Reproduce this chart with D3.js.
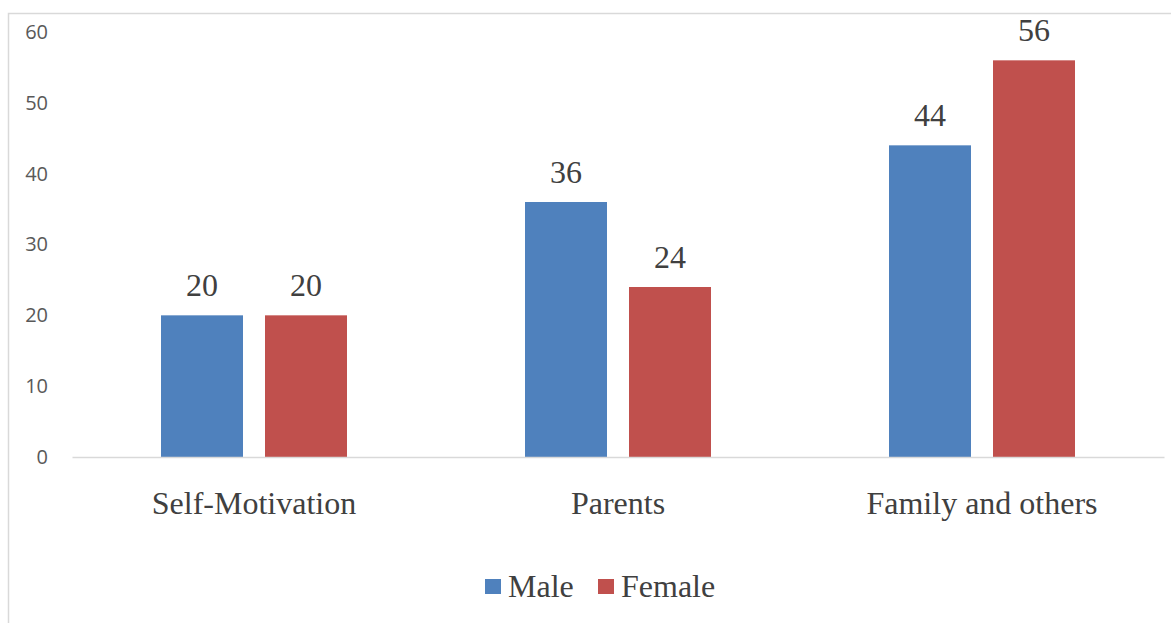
<!DOCTYPE html>
<html><head><meta charset="utf-8">
<script src="https://cdn.jsdelivr.net/npm/d3@7"></script>
<style>body{margin:0;background:#fff}svg{display:block}</style>
</head><body><svg id="c" width="1171" height="623"></svg>
<script>
const categories = ["Self-Motivation", "Parents", "Family and others"];
const seriesNames = ["Male", "Female"];
const maleValues = [20, 36, 44];
const femaleValues = [20, 24, 56];
const yTicks = [0, 10, 20, 30, 40, 50, 60];
const colors = ["#4F81BD", "#C0504D"];

const svg = d3.select("#c");
// outer chart border
svg.append("rect").attr("x", 8.5).attr("y", 13.5).attr("width", 1200).attr("height", 700)
  .attr("fill", "none").attr("stroke", "#d9d9d9").attr("stroke-width", 1.5);

const plotLeft = 72, plotRight = 1164, plotTop = 32, plotBottom = 457;
const serif = "'Liberation Serif', 'Times New Roman', serif";
const y = d3.scaleLinear().domain([0, 60]).range([plotBottom, plotTop]);
const x0 = d3.scaleBand().domain(categories).range([plotLeft, plotRight]).padding(0);
const x1 = d3.scaleBand().domain(seriesNames).range([0, x0.bandwidth()])
  .paddingInner(22 / 104).paddingOuter(0.8558);

const data = categories.map((c, i) => ({cat: c, vals: [maleValues[i], femaleValues[i]]}));

// y axis labels
const yAxis = d3.axisLeft(y).tickValues(yTicks).tickSize(0).tickPadding(0);
const yg = svg.append("g").attr("transform", `translate(48,0)`).call(yAxis);
yg.select(".domain").remove();
yg.selectAll("text").attr("font-family", "'Open Sans', 'Noto Sans', sans-serif")
  .attr("font-size", 20).attr("fill", "#595959");

// bars
const g = svg.append("g");
data.forEach(d => {
  seriesNames.forEach((s, j) => {
    const bx = x0(d.cat) + x1(s);
    g.append("rect").attr("x", bx).attr("y", y(d.vals[j]))
      .attr("width", x1.bandwidth()).attr("height", y(0) - y(d.vals[j]))
      .attr("fill", colors[j]);
    g.append("text").attr("x", bx + x1.bandwidth() / 2).attr("y", y(d.vals[j]) - 19)
      .attr("text-anchor", "middle").attr("font-family", serif)
      .attr("font-size", 32).attr("fill", "#404040").text(d.vals[j]);
  });
});

// x axis
const xAxis = d3.axisBottom(x0).tickSize(0).tickPadding(0);
const xg = svg.append("g").attr("transform", `translate(0,${plotBottom})`).call(xAxis);
xg.select(".domain").attr("stroke", "#d9d9d9").attr("stroke-width", 1.5);
xg.selectAll("text").attr("dy", null).attr("y", 57)
  .attr("font-family", serif)
  .attr("font-size", 32).attr("fill", "#404040");

// legend
const legendX = [485, 598];
seriesNames.forEach((s, j) => {
  svg.append("rect").attr("x", legendX[j]).attr("y", 579).attr("width", 16).attr("height", 15).attr("fill", colors[j]);
  svg.append("text").attr("x", legendX[j] + 23).attr("y", 597)
    .attr("font-family", serif)
    .attr("font-size", 32).attr("fill", "#404040").text(s);
});
</script></body></html>
